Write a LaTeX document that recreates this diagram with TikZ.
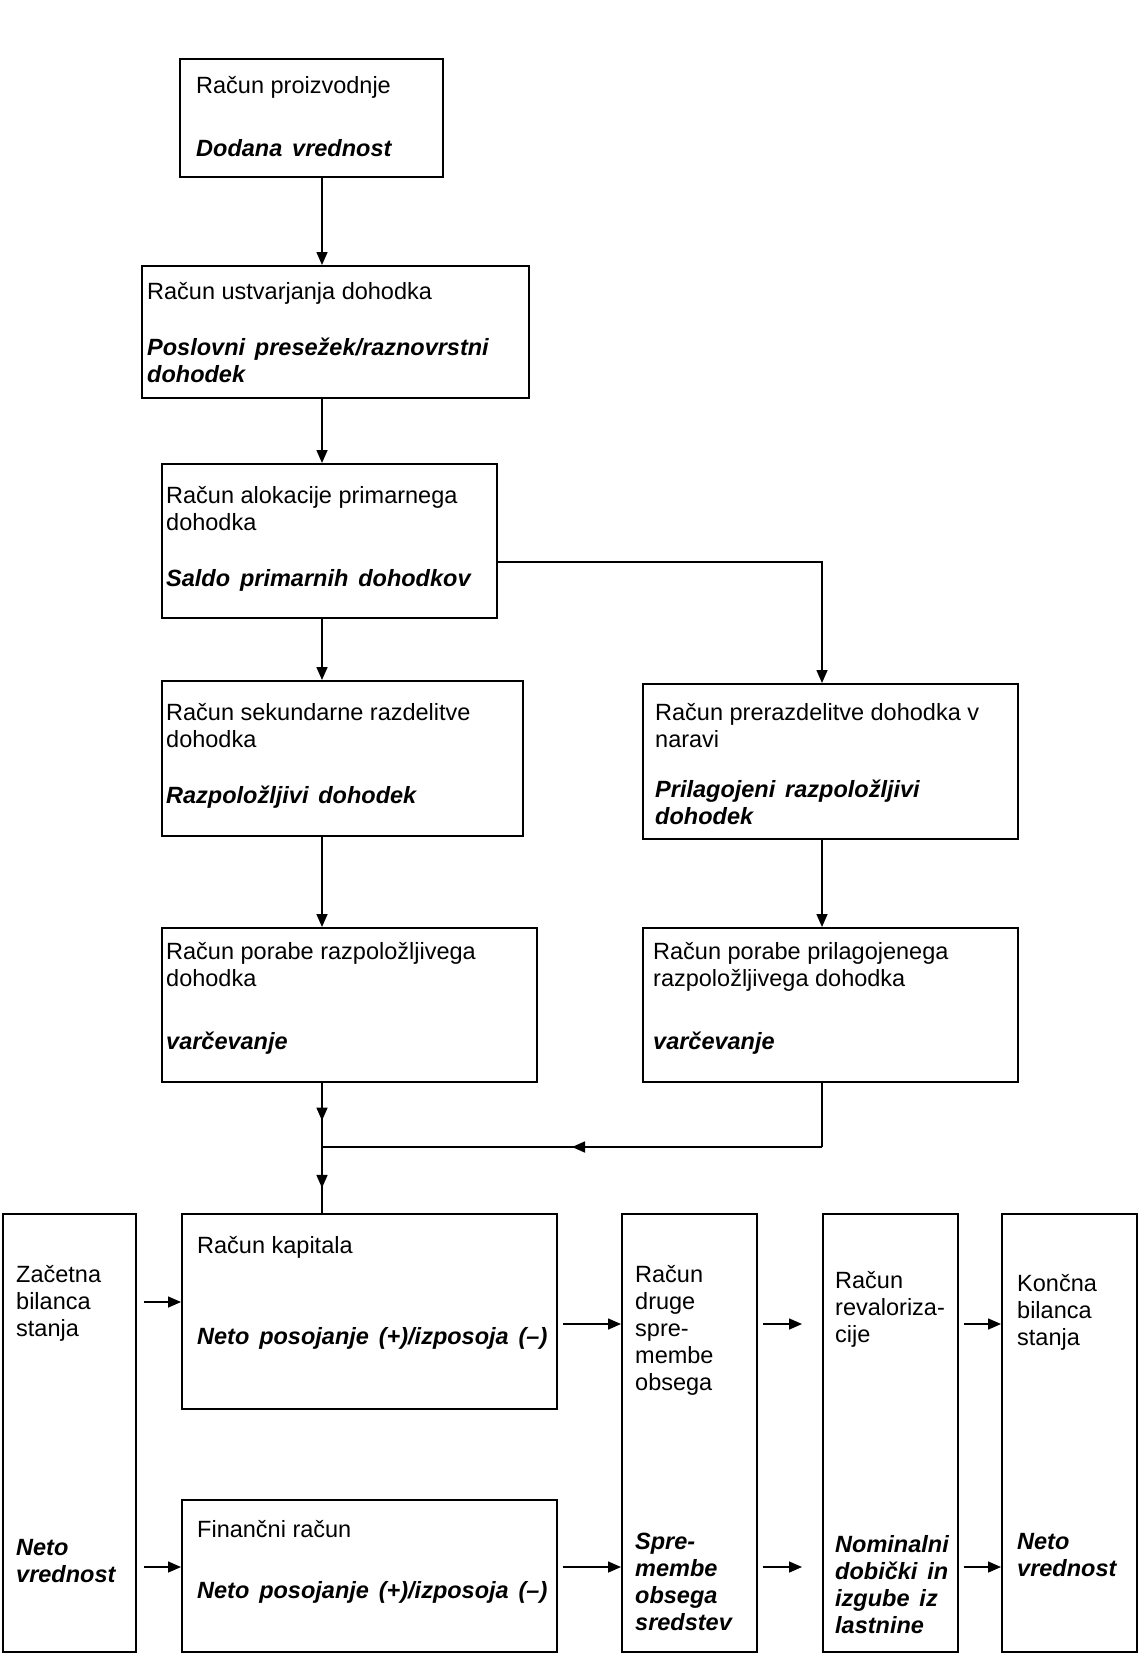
\documentclass[tikz,border=0pt]{standalone}
\usepackage{fontspec}
\setmainfont{Liberation Sans}
\usetikzlibrary{arrows.meta,decorations.markings,calc}
\newcommand{\bfit}[1]{{\bfseries\itshape\spaceskip=0.42em\relax #1}}
\newcommand{\lines}[1]{\parbox[t]{500pt}{#1}}
\begin{document}
\begin{tikzpicture}[x=1pt,y=-1pt,
  box/.style={draw, line width=1.6pt, anchor=north west, inner sep=0pt},
  txt/.style={anchor=base west, inner sep=0pt, font=\fontsize{23.5}{27}\selectfont},
  arr/.style={line width=1.6pt, -{Triangle[length=13pt,width=11pt]}},
  ln/.style={line width=1.6pt},
  midarr/.style={line width=1.6pt, postaction={decorate},
    decoration={markings, mark=at position #1 with {\arrow{Triangle[length=13pt,width=11pt]}}}}
]
\useasboundingbox (0,0) rectangle (1138,1654);
% boxes
\node[box, minimum width=263pt, minimum height=118pt] (b1) at (179,58) {};
\node[box, minimum width=387pt, minimum height=132pt] (b2) at (141,265) {};
\node[box, minimum width=335pt, minimum height=154pt] (b3) at (161,463) {};
\node[box, minimum width=361pt, minimum height=155pt] (b4) at (161,680) {};
\node[box, minimum width=375pt, minimum height=155pt] (b5) at (642,683) {};
\node[box, minimum width=375pt, minimum height=154pt] (b6) at (161,927) {};
\node[box, minimum width=375pt, minimum height=154pt] (b7) at (642,927) {};
\node[box, minimum width=133pt, minimum height=438pt] (lb) at (2,1213) {};
\node[box, minimum width=375pt, minimum height=195pt] (cap) at (181,1213) {};
\node[box, minimum width=375pt, minimum height=152pt] (fin) at (181,1499) {};
\node[box, minimum width=135pt, minimum height=438pt] (dr) at (621,1213) {};
\node[box, minimum width=135pt, minimum height=438pt] (rv) at (822,1213) {};
\node[box, minimum width=135pt, minimum height=438pt] (kb) at (1001,1213) {};
% texts
\node[txt] (t1a) at (196,93) {Račun proizvodnje};
\node[txt] (t1b) at (196,156) {\bfit{Dodana vrednost}};
\node[txt] (t2a) at (147,299) {Račun ustvarjanja dohodka};
\node[txt] (t2b) at (147,355) {\lines{\bfit{Poslovni presežek/raznovrstni}\\\bfit{dohodek}}};
\node[txt] (t3a) at (166,503) {\lines{Račun alokacije primarnega\\dohodka}};
\node[txt] (t3b) at (166,586) {\bfit{Saldo primarnih dohodkov}};
\node[txt] (t4a) at (166,720) {\lines{Račun sekundarne razdelitve\\dohodka}};
\node[txt] (t4b) at (166,803) {\bfit{Razpoložljivi dohodek}};
\node[txt] (t5a) at (655,720) {\lines{Račun prerazdelitve dohodka v\\naravi}};
\node[txt] (t5b) at (655,797) {\lines{\bfit{Prilagojeni razpoložljivi}\\\bfit{dohodek}}};
\node[txt] (t6a) at (166,959) {\lines{Račun porabe razpoložljivega\\dohodka}};
\node[txt] (t6b) at (166,1049) {\bfit{varčevanje}};
\node[txt] (t7a) at (653,959) {\lines{Račun porabe prilagojenega\\razpoložljivega dohodka}};
\node[txt] (t7b) at (653,1049) {\bfit{varčevanje}};
\node[txt] (tla) at (16,1282) {\lines{Začetna\\bilanca\\stanja}};
\node[txt] (tlb) at (16,1555) {\lines{\bfit{Neto}\\\bfit{vrednost}}};
\node[txt] (tca) at (197,1253) {Račun kapitala};
\node[txt] (tcb) at (197,1344) {\bfit{Neto posojanje (+)/izposoja (–)}};
\node[txt] (tfa) at (197,1537) {Finančni račun};
\node[txt] (tfb) at (197,1598) {\bfit{Neto posojanje (+)/izposoja (–)}};
\node[txt] (tda) at (635,1282) {\lines{Račun\\druge\\spre-\\membe\\obsega}};
\node[txt] (tdb) at (635,1549) {\lines{\bfit{Spre-}\\\bfit{membe}\\\bfit{obsega}\\\bfit{sredstev}}};
\node[txt] (tra) at (835,1288) {\lines{Račun\\revaloriza-\\cije}};
\node[txt] (trb) at (835,1552) {\lines{\bfit{Nominalni}\\\bfit{dobički in}\\\bfit{izgube iz}\\\bfit{lastnine}}};
\node[txt] (tka) at (1017,1291) {\lines{Končna\\bilanca\\stanja}};
\node[txt] (tkb) at (1017,1549) {\lines{\bfit{Neto}\\\bfit{vrednost}}};
% helper coordinates
\coordinate (vx) at (322,0);
\coordinate (rx) at (822,0);
\coordinate (h3) at (0,562);
\coordinate (j) at (322,1147);
\coordinate (jr) at (822,1147);
\coordinate (yu) at (0,1302);
\coordinate (yc) at (0,1324);
\coordinate (yl) at (0,1567);
% connectors
\draw[arr] (b1.south -| vx) -- (b2.north -| vx);
\draw[arr] (b2.south -| vx) -- (b3.north -| vx);
\draw[arr] (b3.south -| vx) -- (b4.north -| vx);
\draw[arr] (b4.south -| vx) -- (b6.north -| vx);
\draw[arr] (b3.east |- h3) -| (b5.north -| rx);
\draw[arr] (b5.south -| rx) -- (b7.north -| rx);
\draw[midarr=0.59] (b6.south -| vx) -- (j);
\draw[midarr=0.62] (j) -- (cap.north -| vx);
\draw[ln] (b7.south -| rx) -- (jr);
\draw[midarr=0.5] (jr) -- (j);
\draw[arr] ([xshift=7pt]lb.east |- yu) -- (cap.west |- yu);
\draw[arr] ([xshift=5pt]cap.east |- yc) -- (dr.west |- yc);
\draw[arr] ([xshift=5pt]dr.east |- yc) -- ([xshift=-20pt]rv.west |- yc);
\draw[arr] ([xshift=5pt]rv.east |- yc) -- (kb.west |- yc);
\draw[arr] ([xshift=7pt]lb.east |- yl) -- (fin.west |- yl);
\draw[arr] ([xshift=5pt]fin.east |- yl) -- (dr.west |- yl);
\draw[arr] ([xshift=5pt]dr.east |- yl) -- ([xshift=-20pt]rv.west |- yl);
\draw[arr] ([xshift=5pt]rv.east |- yl) -- (kb.west |- yl);
\end{tikzpicture}
\end{document}
